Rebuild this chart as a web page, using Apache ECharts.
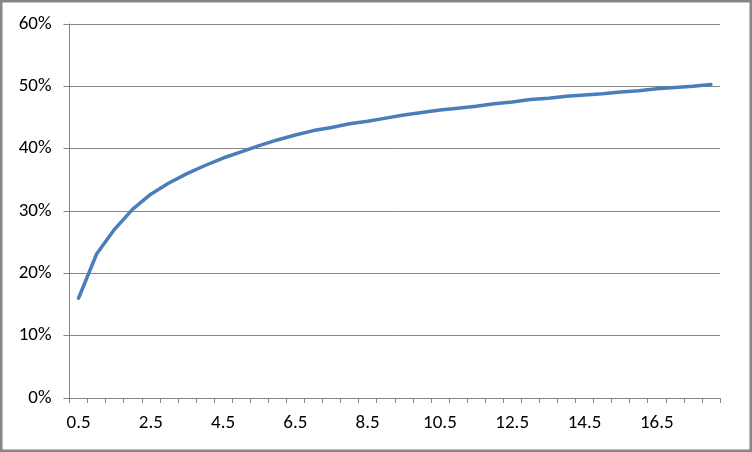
<!DOCTYPE html>
<html>
<head>
<meta charset="utf-8">
<script src="https://cdn.jsdelivr.net/npm/echarts@6/dist/echarts.min.js"></script>
<style>
html,body{margin:0;padding:0;background:#fff;}
#chart{width:752px;height:452px;}
</style>
</head>
<body>
<div id="chart"></div>
<script>
const categories = ['0.5','1.0','1.5','2.0','2.5','3.0','3.5','4.0','4.5','5.0','5.5','6.0','6.5','7.0','7.5','8.0','8.5','9.0','9.5','10.0','10.5','11.0','11.5','12.0','12.5','13.0','13.5','14.0','14.5','15.0','15.5','16.0','16.5','17.0','17.5','18.0'];
const values = [16.0,23.1,27.1,30.3,32.7,34.5,36.0,37.3,38.5,39.5,40.5,41.4,42.2,42.9,43.4,44.0,44.4,44.9,45.4,45.8,46.2,46.5,46.8,47.2,47.5,47.9,48.1,48.4,48.6,48.8,49.1,49.3,49.6,49.8,50.0,50.3];
const yTicks = [0,10,20,30,40,50,60];

const chart = echarts.init(document.getElementById('chart'), null, {renderer:'canvas'});
const font = 'Carlito, Lato, "Open Sans", sans-serif';
chart.setOption({
  animation:false,
  backgroundColor:'#fff',
  grid:{left:69.5,right:32,top:24,bottom:54,containLabel:false},
  graphic:[{type:'rect',shape:{x:1.25,y:1.25,width:749.5,height:449.5},style:{fill:'none',stroke:'#868686',lineWidth:2.5},silent:true}],
  xAxis:{
    type:'category',
    data:categories,
    boundaryGap:true,
    axisLine:{lineStyle:{color:'#868686',width:1}},
    axisTick:{show:true,alignWithLabel:false,interval:0,length:5,lineStyle:{color:'#868686'}},
    axisLabel:{interval:3,color:'#000',fontFamily:font,fontSize:19,margin:16},
    splitLine:{show:false}
  },
  yAxis:{
    type:'value',
    min:yTicks[0],max:yTicks[yTicks.length-1],interval:10,
    axisLine:{show:true,lineStyle:{color:'#868686',width:1}},
    axisTick:{show:true,length:6,lineStyle:{color:'#868686'}},
    axisLabel:{color:'#000',fontFamily:font,fontSize:19,margin:18,formatter:v=>v+'%'},
    splitLine:{show:true,lineStyle:{color:'#868686',width:1}}
  },
  series:[{
    type:'line',
    data:values,
    showSymbol:false,
    symbol:'none',
    smooth:false,
    lineStyle:{color:'#4a7ebb',width:3.5,cap:'round',join:'round'}
  }]
});
</script>
</body>
</html>
